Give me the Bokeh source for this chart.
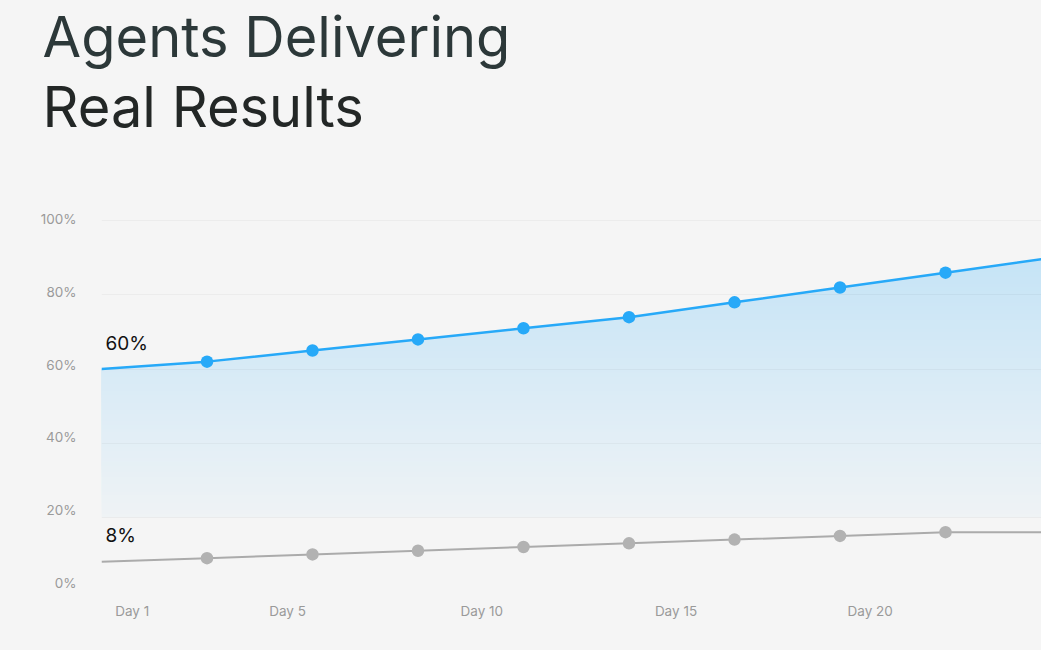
import numpy as np
from bokeh.plotting import figure
from bokeh.models import Range1d, FixedTicker, PrintfTickFormatter, LinearAxis, Grid, Title
from bokeh.core.properties import value
from bokeh.embed import file_html
from bokeh.resources import INLINE

# ---------------- data ----------------
point_index = [0, 1, 2, 3, 4, 5, 6, 7, 8, 9]
agents_pct = [60, 62, 65, 68, 71, 74, 78, 82, 86, 90]
baseline_pct = [8, 9, 10, 11, 12, 13, 14, 15, 16, 16]
day_ticks = [1, 5, 10, 15, 20, 25]
day_labels = ["Day 1", "Day 5", "Day 10", "Day 15", "Day 20", "Day 25"]
y_ticks = [0, 20, 40, 60, 80, 100]
title_lines = ["Agents Delivering", "Real Results"]

# ---------------- style / layout ----------------
BG = "#f5f5f5"
BLUE = "#27a9f8"
FILL = "#20a8fc"
GRAY = "#ababab"
GRAY_DOT = "#b2b2b2"
TICK = "#9a9a9a"
FONT = "Inter"

W, H = 1041, 650
B_LEFT, B_RIGHT, B_TOP, B_BOTTOM = 101, 0, 138, 59
POINT_SPACING = 105.5          # px between checkpoints
PX_PER_PCT = 3.724             # px per percentage point (plot)
frame_w = W - B_LEFT - B_RIGHT
frame_h = H - B_TOP - B_BOTTOM
x_end = frame_w / POINT_SPACING
y_top = frame_h / PX_PER_PCT
# y tick labels sit slightly above their grid lines, on a slightly tighter scale
LABEL_PX_PER_PCT = 3.65
LABEL_LIFT_AT_ZERO = 9
lab_start = -LABEL_LIFT_AT_ZERO / LABEL_PX_PER_PCT
lab_end = lab_start + frame_h / LABEL_PX_PER_PCT
DAY_AXIS = (0.21, 24.41)       # day scale laid over the frame width

p = figure(width=W, height=H, output_backend="svg", toolbar_location=None,
           x_range=Range1d(0, x_end), y_range=Range1d(0, y_top),
           x_axis_location=None, y_axis_location=None,
           min_border_left=B_LEFT, min_border_right=B_RIGHT,
           min_border_top=B_TOP, min_border_bottom=B_BOTTOM)
p.background_fill_color = BG
p.border_fill_color = BG
p.outline_line_color = None
p.xgrid.visible = False
p.ygrid.visible = False
p.extra_y_ranges = {"ylabels": Range1d(lab_start, lab_end)}
p.extra_x_ranges = {"days": Range1d(*DAY_AXIS)}

# title: two lines, nearest line added first
title_colors = ["#2c3839", "#232726"]
title_line_heights = [0.92, 1.0]
for txt, col, lh in reversed(list(zip(title_lines, title_colors, title_line_heights))):
    p.add_layout(Title(text=txt, align="left", offset=-(B_LEFT - 42), standoff=0,
                       text_font=FONT, text_font_size="56px", text_font_style="normal",
                       text_line_height=lh, text_color=col), "above")

grid = Grid(dimension=1, ticker=FixedTicker(ticks=y_ticks),
            grid_line_color="black", grid_line_alpha=0.035, grid_line_width=1)
p.add_layout(grid, "center")

# gradient fill under the blue line: opaque bands drawn bottom-up
def clip_above(xs, ys, level):
    ox, oy = [], []
    for i in range(len(xs)):
        if i > 0:
            y0, y1 = ys[i - 1], ys[i]
            if (y0 - level) * (y1 - level) < 0:
                tt = (level - y0) / (y1 - y0)
                ox.append(xs[i - 1] + tt * (xs[i] - xs[i - 1]))
                oy.append(level)
        ox.append(xs[i])
        oy.append(max(ys[i], level))
    return ox, oy

def mix(c1, c2, a):
    r1, g1, b1 = int(c1[1:3], 16), int(c1[3:5], 16), int(c1[5:7], 16)
    r2, g2, b2 = int(c2[1:3], 16), int(c2[3:5], 16), int(c2[5:7], 16)
    return "#%02x%02x%02x" % (round(r1 + (r2 - r1) * a), round(g1 + (g2 - g1) * a),
                              round(b1 + (b2 - b1) * a))

fill_base = 20
fill_top = max(agents_pct)
a_bot, a_top = 0.03, 0.225
for L in np.arange(fill_base, fill_top, 1.0):
    a = a_bot + (a_top - a_bot) * (L - fill_base) / (fill_top - fill_base)
    xs, ys = clip_above(point_index, agents_pct, float(L))
    r = p.varea(x=xs, y1=[float(L)] * len(xs), y2=ys, fill_color=mix(BG, FILL, a), fill_alpha=1.0)
    r.level = "image"

# lines and markers
p.line(point_index, agents_pct, line_color=BLUE, line_width=2.5)
p.scatter(point_index[1:], agents_pct[1:], size=12.5, fill_color=BLUE, line_color=None)
p.line(point_index, baseline_pct, line_color=GRAY, line_width=2)
p.scatter(point_index[1:], baseline_pct[1:], size=12.5, fill_color=GRAY_DOT, line_color=None)

# start value labels
for series in (agents_pct, baseline_pct):
    p.text(x=[point_index[0]], y=[series[0]], text=[f"{series[0]}%"],
           text_font=value(FONT), text_font_size="19px", text_color="#111111",
           text_baseline="alphabetic", text_align="left", x_offset=4, y_offset=-26)

# axes
yax = LinearAxis(y_range_name="ylabels", ticker=FixedTicker(ticks=y_ticks),
                 formatter=PrintfTickFormatter(format="%d%%"))
yax.axis_line_color = None
yax.major_tick_line_color = None
yax.minor_tick_line_color = None
yax.major_tick_out = 0
yax.major_tick_in = 0
yax.major_label_standoff = 25
yax.major_label_text_font = FONT
yax.major_label_text_font_size = "13.5px"
yax.major_label_text_color = TICK
p.add_layout(yax, "left")

xax = LinearAxis(x_range_name="days", ticker=FixedTicker(ticks=day_ticks))
xax.major_label_overrides = {d: lab for d, lab in zip(day_ticks, day_labels)}
xax.axis_line_color = None
xax.major_tick_line_color = None
xax.minor_tick_line_color = None
xax.major_tick_out = 0
xax.major_tick_in = 0
xax.major_label_standoff = 11
xax.major_label_text_font = FONT
xax.major_label_text_font_size = "13.5px"
xax.major_label_text_color = TICK
p.add_layout(xax, "below")

html = file_html(p, INLINE)
html = html.replace("<head>", "<head><style>html,body{background:#f5f5f5;margin:0;}</style>", 1)
open("out.html", "w").write(html)
